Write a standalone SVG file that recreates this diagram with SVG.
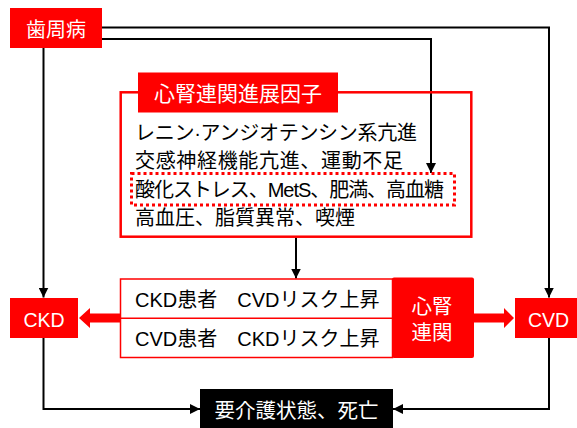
<svg xmlns="http://www.w3.org/2000/svg" width="577" height="428" viewBox="0 0 577 428">
<style>
text{font-family:"Liberation Sans","Noto Sans CJK JP",sans-serif;}
.w{fill:#fff;}
.b{fill:#000;}
.red{fill:#f00;}
.ln{fill:none;stroke:#000;stroke-width:2;}
.c{text-anchor:middle;}
</style>
<defs>
<marker id="ah" viewBox="0 0 10 10" refX="10" refY="5" markerWidth="10" markerHeight="10" markerUnits="userSpaceOnUse" orient="auto">
<path d="M0,0 L10,5 L0,10 Z" fill="#000"/>
</marker>
</defs>
<rect width="577" height="428" fill="#fff"/>

<g id="connectors">
<path class="ln" d="M102,27.5 H549 V297.5" marker-end="url(#ah)"/>
<path class="ln" d="M102,39 H431 V173" marker-end="url(#ah)"/>
<path class="ln" d="M43.5,48 V297.5" marker-end="url(#ah)"/>
<path class="ln" d="M296,237.5 V278.5" marker-end="url(#ah)"/>
<path class="ln" d="M43.5,338 V409 H200" marker-end="url(#ah)"/>
<path class="ln" d="M549,338 V409 H393" marker-end="url(#ah)"/>
<polygon class="red" points="120,313.5 90,313.5 90,308 79,318 90,328 90,322.5 120,322.5"/>
<polygon class="red" points="474,313.5 504,313.5 504,308 514,318 504,328 504,322.5 474,322.5"/>
</g>

<g id="shishubyo">
<rect x="10" y="8" width="92" height="40" class="red"/>
<text x="56" y="36.8" font-size="20" class="w c">歯周病</text>
</g>

<g id="factors">
<rect x="120.7" y="92.3" width="350.6" height="144.4" fill="none" stroke="#f00" stroke-width="2.5"/>
<rect x="138" y="72.5" width="200" height="40" class="red"/>
<text x="238" y="101" font-size="21" class="w c">心腎連関進展因子</text>
<rect x="131.5" y="173.5" width="323" height="31.5" fill="none" stroke="#f00" stroke-width="3" stroke-dasharray="3,3"/>
<text x="135" y="139.6" font-size="20" class="b" textLength="282" lengthAdjust="spacing">レニン·アンジオテンシン系亢進</text>
<text x="135" y="168.4" font-size="20" class="b" textLength="268" lengthAdjust="spacing">交感神経機能亢進、運動不足</text>
<text x="135" y="196.8" font-size="20" class="b" textLength="309" lengthAdjust="spacing">酸化ストレス、MetS、肥満、高血糖</text>
<text x="135" y="225.1" font-size="20" class="b" textLength="220" lengthAdjust="spacing">高血圧、脂質異常、喫煙</text>
</g>

<g id="risk">
<rect x="120.5" y="279" width="272" height="78.5" fill="#fff" stroke="#f00" stroke-width="1.5"/>
<line x1="120.5" y1="318.3" x2="392" y2="318.3" stroke="#f00" stroke-width="1.5"/>
<text x="135" y="307.4" font-size="20" class="b">CKD患者　CVDリスク上昇</text>
<text x="135" y="346" font-size="20" class="b">CVD患者　CKDリスク上昇</text>
</g>

<g id="shinjin">
<rect x="392" y="277.5" width="82" height="80.5" rx="2" class="red"/>
<text x="432" y="313.5" font-size="20.5" class="w c">心腎</text>
<text x="432" y="339.8" font-size="20.5" class="w c">連関</text>
</g>

<g id="ckd">
<rect x="10" y="298" width="68" height="40" class="red"/>
<text x="44" y="327.3" font-size="19.5" class="w c">CKD</text>
</g>

<g id="cvd">
<rect x="515" y="298" width="68" height="40" class="red"/>
<text x="548.5" y="326.8" font-size="19.5" class="w c">CVD</text>
</g>

<g id="outcome">
<rect x="200" y="389" width="193" height="39" class="b"/>
<text x="296.5" y="418.3" font-size="20.5" class="w c">要介護状態、死亡</text>
</g>
</svg>
